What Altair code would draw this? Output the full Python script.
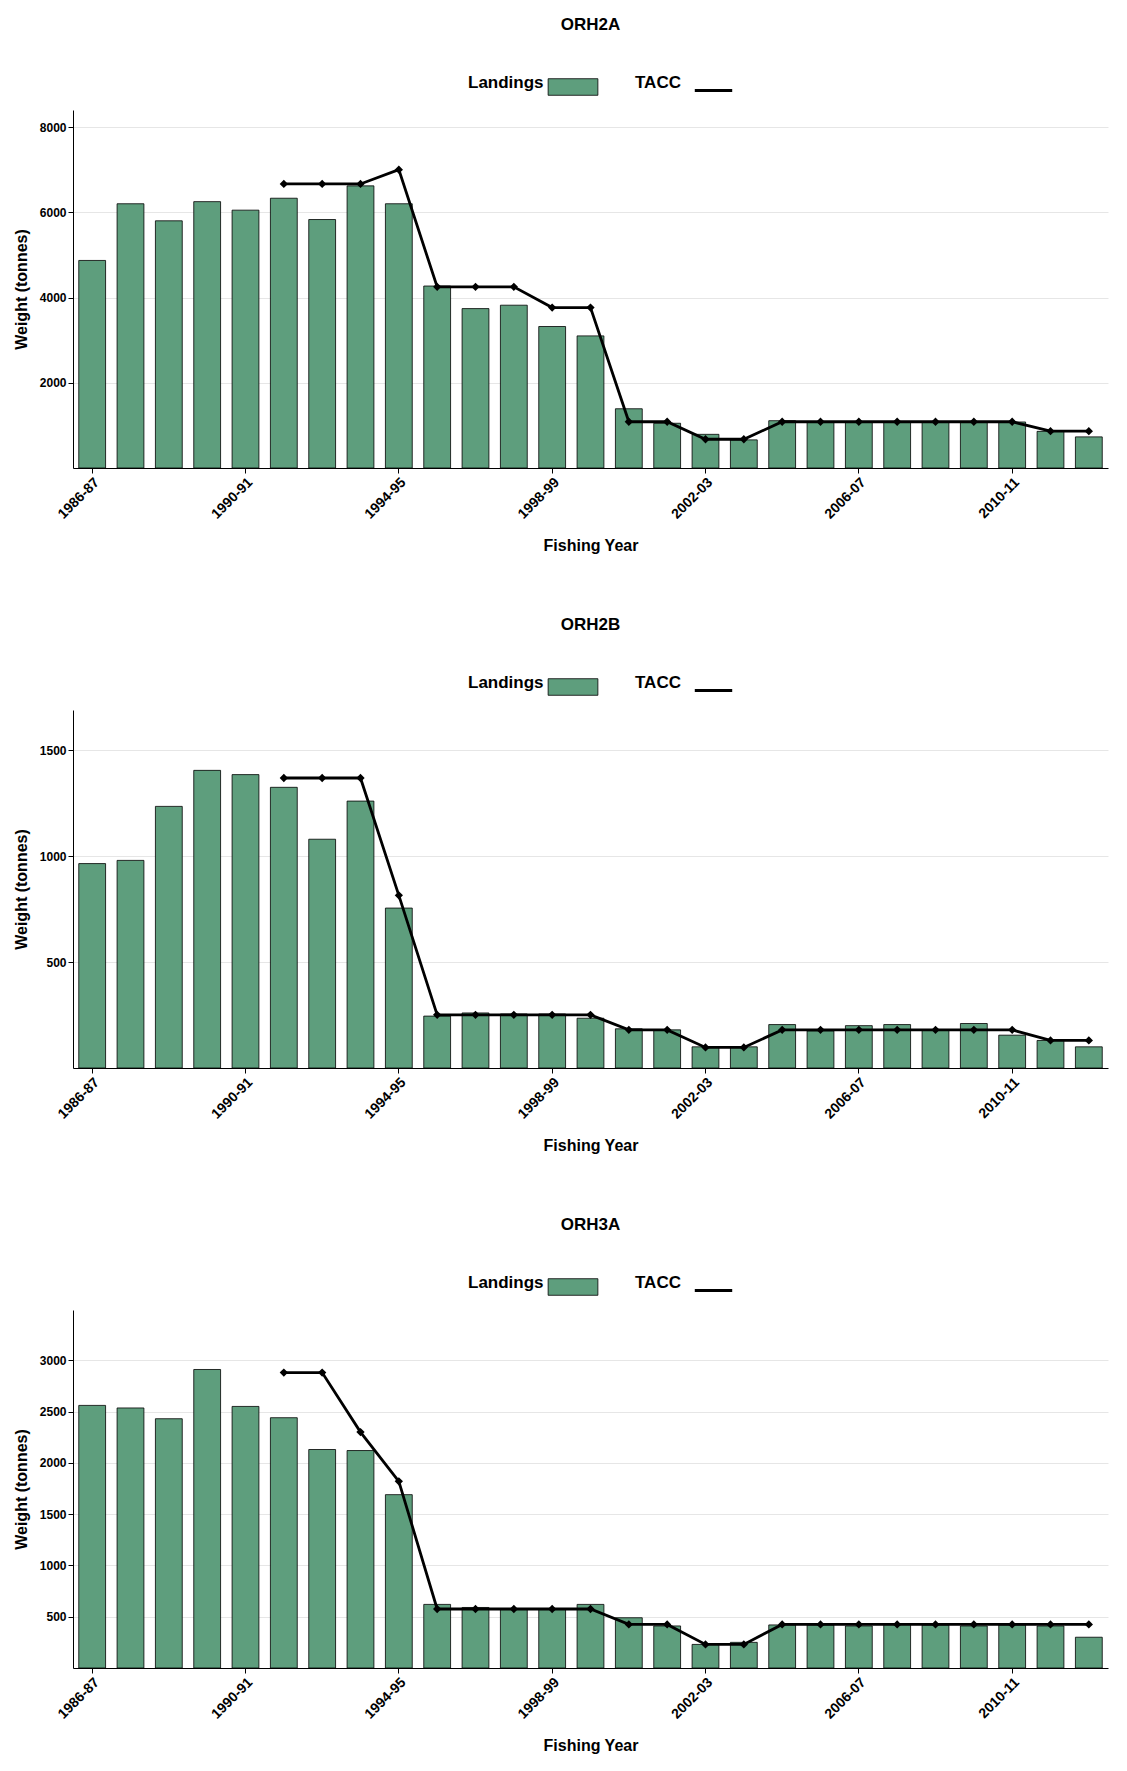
import altair as alt
import pandas as pd

years = [f"{y}-{str(y + 1)[-2:]}" for y in range(1986, 2013)]
shown_years = ["1986-87", "1990-91", "1994-95", "1998-99", "2002-03", "2006-07", "2010-11"]

orh2a_landings = [4870, 6200, 5800, 6250, 6050, 6330, 5830, 6620, 6200, 4270, 3740, 3820, 3320, 3100,
                  1390, 1050, 790, 660, 1110, 1090, 1090, 1090, 1090, 1090, 1080, 860, 730]
orh2a_tacc = [None] * 5 + [6665, 6665, 6665, 7000, 4250, 4250, 4250, 3765, 3765, 1085, 1085, 675, 675,
                           1085, 1085, 1085, 1085, 1085, 1085, 1085, 865, 865]

orh2b_landings = [965, 980, 1235, 1405, 1385, 1325, 1080, 1260, 755, 245, 260, 255, 255, 235, 185, 180,
                  100, 100, 205, 175, 200, 205, 180, 210, 155, 130, 100]
orh2b_tacc = [None] * 5 + [1369, 1369, 1369, 815, 251, 251, 251, 251, 251, 180, 180, 97, 97,
                           180, 180, 180, 180, 180, 180, 180, 130, 130]

orh3a_landings = [2560, 2535, 2430, 2910, 2550, 2440, 2130, 2120, 1690, 620, 590, 580, 580, 620, 490,
                  410, 230, 250, 420, 420, 410, 430, 420, 410, 420, 410, 300]
orh3a_tacc = [None] * 5 + [2880, 2880, 2300, 1820, 575, 575, 575, 575, 575, 425, 425, 230, 230,
                           425, 425, 425, 425, 425, 425, 425, 425, 425]

FONT = "Liberation Sans"


def panel(title, landings, tacc, ymax, yticks):
    df = pd.DataFrame({"year": years, "landings": landings, "tacc": tacc})
    df["series_l"] = "Landings"
    df["series_t"] = "TACC"
    x = alt.X("year:N", sort=years, title="Fishing Year",
              scale=alt.Scale(paddingInner=0.3, paddingOuter=0.15),
              axis=alt.Axis(values=shown_years, labelAngle=-45, domainColor="black", tickColor="black",
                            labelColor="black", labelFontWeight="bold", labelFontSize=14,
                            titleFontSize=16, titlePadding=16))
    y_scale = alt.Scale(domain=[0, ymax], nice=False)
    y_axis = alt.Axis(values=yticks, format="d", grid=True, gridColor="#e6e6e6", domainColor="black",
                      tickColor="black", labelColor="black", labelFontWeight="bold", labelFontSize=12,
                      titleFontSize=16, titlePadding=10)
    bars = alt.Chart(df).mark_bar(stroke="black", strokeWidth=0.8).encode(
        x=x,
        y=alt.Y("landings:Q", title="Weight (tonnes)", scale=y_scale, axis=y_axis),
        fill=alt.Fill("series_l:N", scale=alt.Scale(range=["#5e9e7d"]),
                      legend=alt.Legend(title="Landings", titleOrient="left", labelExpr="''",
                                        symbolType="M-1.5,-0.5h3v1h-3z", symbolSize=1100,
                                        symbolStrokeColor="black", symbolStrokeWidth=0.8,
                                        labelLimit=1, orient="none", legendX=395, legendY=-40,
                                        titleFontSize=17, titlePadding=12)),
    )
    line = alt.Chart(df.dropna(subset=["tacc"])).mark_line(
        color="black", strokeWidth=2.8,
        point=alt.OverlayMarkDef(color="black", shape="diamond", size=30)
    ).encode(
        x=alt.X("year:N", sort=years),
        y=alt.Y("tacc:Q", scale=y_scale),
        stroke=alt.Stroke("series_t:N", scale=alt.Scale(range=["black"]),
                          legend=alt.Legend(title="TACC", titleOrient="left", labelExpr="''",
                                            symbolType="stroke", symbolSize=1400, symbolStrokeWidth=2.8,
                                            labelLimit=1, orient="none", legendX=562, legendY=-40,
                                            titleFontSize=17, titlePadding=12)),
    )
    return alt.layer(bars, line).resolve_legend(fill="independent", stroke="independent").properties(
        width=1035, height=358,
        title=alt.TitleParams(title, fontSize=17, anchor="middle", offset=36),
    )


chart = alt.vconcat(
    panel("ORH2A", orh2a_landings, orh2a_tacc, 8400, [2000, 4000, 6000, 8000]),
    panel("ORH2B", orh2b_landings, orh2b_tacc, 1690, [500, 1000, 1500]),
    panel("ORH3A", orh3a_landings, orh3a_tacc, 3490, [500, 1000, 1500, 2000, 2500, 3000]),
    spacing=62,
).resolve_legend(fill="independent", stroke="independent").configure(
    font=FONT, padding={"left": 5, "top": 8, "right": 5, "bottom": 5}
).configure_view(stroke=None).configure_title(fontWeight="bold").configure_axis(
    titleFontWeight="bold", ticks=True
).configure_legend(titleFontWeight="bold")

chart.save("out.html", embed_options={"renderer": "svg", "actions": False})
